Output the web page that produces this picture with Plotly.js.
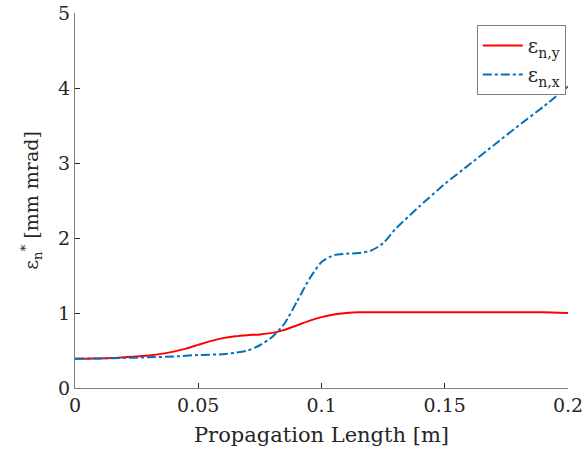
<!DOCTYPE html>
<html><head><meta charset="utf-8">
<script src="https://cdn.plot.ly/plotly-3.0.1.min.js"></script>
<style>body{margin:0;background:#fff}#c{width:585px;height:461px}</style>
</head><body><div id="c"></div>
<script>
const xRed = [0, 0.005, 0.01, 0.015, 0.02, 0.025, 0.03, 0.035, 0.04, 0.045, 0.05, 0.055, 0.06, 0.065, 0.07, 0.075, 0.08, 0.085, 0.09, 0.095, 0.1, 0.105, 0.11, 0.115, 0.12, 0.13, 0.14, 0.15, 0.16, 0.17, 0.18, 0.19, 0.2];
const yRed = [0.39, 0.39, 0.395, 0.40, 0.41, 0.42, 0.435, 0.455, 0.485, 0.525, 0.575, 0.625, 0.665, 0.69, 0.705, 0.715, 0.735, 0.775, 0.835, 0.895, 0.945, 0.98, 1.00, 1.01, 1.01, 1.01, 1.01, 1.01, 1.01, 1.01, 1.01, 1.01, 1.0];
const xBlue = [0, 0.01, 0.02, 0.03, 0.04, 0.05, 0.06, 0.065, 0.07, 0.075, 0.08, 0.085, 0.09, 0.095, 0.1, 0.105, 0.11, 0.115, 0.12, 0.125, 0.13, 0.14, 0.15, 0.16, 0.17, 0.18, 0.19, 0.2];
const yBlue = [0.39, 0.395, 0.40, 0.41, 0.42, 0.44, 0.45, 0.47, 0.50, 0.57, 0.68, 0.86, 1.15, 1.45, 1.68, 1.77, 1.79, 1.80, 1.83, 1.93, 2.12, 2.43, 2.72, 2.98, 3.24, 3.50, 3.75, 4.02];
const xTicks = [0, 0.05, 0.1, 0.15, 0.2];
const xTickText = ['0', '0.05', '0.1', '0.15', '0.2'];
const yTicks = [0, 1, 2, 3, 4, 5];

const FAM = 'DejaVu Serif';
const C = '#262626';
const data = [
  {x: xRed, y: yRed, type: 'scatter', mode: 'lines', name: 'ε<sub>n,y</sub>',
   line: {color: '#FF0000', width: 2, shape: 'spline', smoothing: 0.6}},
  {x: xBlue, y: yBlue, type: 'scatter', mode: 'lines', name: 'ε<sub>n,x</sub>',
   line: {color: '#0072BD', width: 2, dash: 'dashdot', shape: 'spline', smoothing: 0.6}}
];
const layout = {
  width: 585, height: 461,
  margin: {l: 75, r: 17, t: 13, b: 73},
  paper_bgcolor: '#fff', plot_bgcolor: '#fff',
  font: {family: FAM, size: 19, color: C},
  showlegend: true,
  legend: {x: 0.815, y: 0.968, xanchor: 'left', yanchor: 'top',
    bordercolor: '#7f7f7f', borderwidth: 1, bgcolor: '#fff',
    font: {family: FAM, size: 20, color: C}, tracegroupgap: 4, itemwidth: 40},
  xaxis: {range: [0, 0.2], tickvals: xTicks, ticktext: xTickText,
    ticks: 'inside', ticklen: 5, tickcolor: C, showgrid: false, zeroline: false,
    showline: true, linecolor: '#7f7f7f', linewidth: 1,
    tickfont: {family: FAM, size: 19, color: C},
    title: {text: 'Propagation Length [m]', font: {family: FAM, size: 21, color: C}, standoff: 12}},
  yaxis: {range: [0, 5], tickvals: yTicks,
    ticks: 'inside', ticklen: 5, tickcolor: C, showgrid: false, zeroline: false,
    showline: true, linecolor: '#7f7f7f', linewidth: 1,
    tickfont: {family: FAM, size: 19, color: C},
    title: {text: 'ε<sub>n</sub><sup>*</sup> [mm mrad]', font: {family: FAM, size: 19, color: C}, standoff: 14}}
};
Plotly.newPlot('c', data, layout, {displayModeBar: false, staticPlot: true});
</script></body></html>
